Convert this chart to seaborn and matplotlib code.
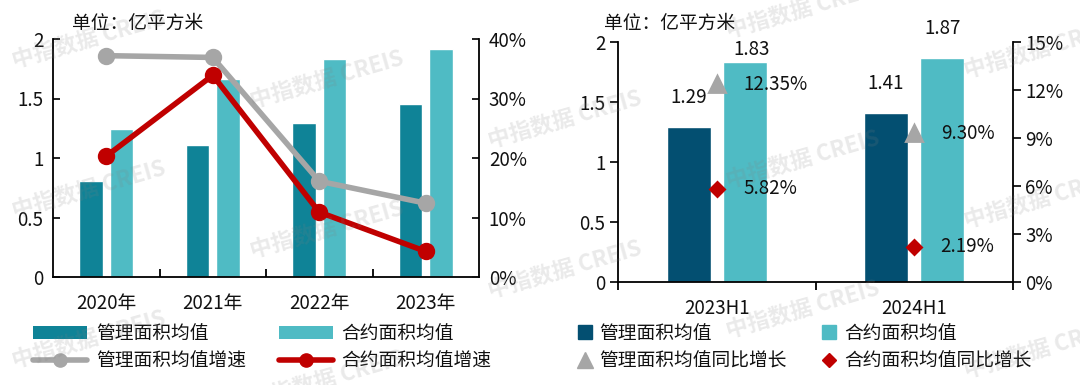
import matplotlib
matplotlib.use("Agg")
import matplotlib.pyplot as plt
from matplotlib.lines import Line2D
from matplotlib.patches import Patch
from matplotlib.ticker import FuncFormatter
import pandas as pd
import seaborn as sns

# ---- data ----
years = ["2020年", "2021年", "2022年", "2023年"]
mgmt_area = [0.81, 1.11, 1.29, 1.45]
contract_area = [1.24, 1.66, 1.83, 1.92]
mgmt_growth = [37.2, 36.9, 16.1, 12.4]        # %
contract_growth = [20.3, 33.9, 10.9, 4.3]     # %

halves = ["2023H1", "2024H1"]
mgmt_area_h1 = [1.29, 1.41]
contract_area_h1 = [1.83, 1.87]
mgmt_yoy_h1 = [12.35, 9.30]                   # %
contract_yoy_h1 = [5.82, 2.19]                # %

bar_names = ["管理面积均值", "合约面积均值"]
growth_names = ["管理面积均值增速", "合约面积均值增速"]
yoy_names = ["管理面积均值同比增长", "合约面积均值同比增长"]
unit_text = "单位：亿平方米"
watermark = "中指数据 CREIS"

# ---- style ----
TEAL_DARK = "#0F8397"
TEAL_LIGHT = "#4FBBC4"
NAVY = "#034F71"
GRAY = "#A6A6A6"
RED = "#C00000"
INK = "#111111"
FS = 13.5

sns.set_theme(style="white")
plt.rcParams["font.family"] = ["Noto Sans CJK SC", "DejaVu Sans"]
plt.rcParams["axes.unicode_minus"] = False

W, H = 1080, 385
fig = plt.figure(figsize=(W / 100, H / 100), dpi=100)


def px_axes(x0, x1, ytop, ybot):
    return fig.add_axes([x0 / W, 1 - ybot / H, (x1 - x0) / W, (ybot - ytop) / H])


def long_df(cats, a, b):
    return pd.DataFrame({
        "period": cats * 2,
        "series": [bar_names[0]] * len(cats) + [bar_names[1]] * len(cats),
        "value": a + b,
    })


def style_spines(ax, ax2):
    ax.spines["top"].set_visible(False)
    ax.spines["right"].set_visible(False)
    for s in ["top", "left", "bottom"]:
        ax2.spines[s].set_visible(False)
    for s in ["left", "bottom"]:
        ax.spines[s].set_color("black")
        ax.spines[s].set_linewidth(1.3)
    ax2.spines["right"].set_color("black")
    ax2.spines["right"].set_linewidth(1.3)


# ================= left chart =================
ax1 = px_axes(53, 479, 39, 277)
sns.barplot(data=long_df(years, mgmt_area, contract_area), x="period", y="value",
            hue="series", order=years, hue_order=bar_names,
            palette=[TEAL_DARK, TEAL_LIGHT], width=0.58, gap=0.24,
            saturation=1, legend=False, ax=ax1)
ax1b = ax1.twinx()
sns.pointplot(x=years, y=mgmt_growth, order=years, color=GRAY, marker="o",
              markersize=9.5, linewidth=4, errorbar=None, ax=ax1b)
sns.pointplot(x=years, y=contract_growth, order=years, color=RED, marker="o",
              markersize=9.5, linewidth=4, errorbar=None, ax=ax1b)

ax1.set_xlim(-0.5, len(years) - 0.5)
ax1.set_ylim(0, 2)
ax1b.set_ylim(0, 40)
ax1.set_yticks([0, 0.5, 1, 1.5, 2])
ax1b.set_yticks([0, 10, 20, 30, 40])
ax1.yaxis.set_major_formatter(FuncFormatter(lambda v, p: f"{v:g}"))
ax1b.yaxis.set_major_formatter(FuncFormatter(lambda v, p: f"{v:.0f}%"))
ax1.set_xticks(range(len(years)))
ax1.set_xticklabels(years)
ax1.set_xticks([i + 0.5 for i in range(len(years) - 1)], minor=True)
ax1.tick_params(axis="x", which="major", length=0, pad=11.5, labelsize=FS, colors=INK)
ax1.tick_params(axis="x", which="minor", direction="in", length=6, width=1.3,
                color="black", bottom=True)
ax1.tick_params(axis="y", direction="in", length=5, width=1.3, pad=7,
                labelsize=FS, colors=INK, left=True)
ax1b.tick_params(axis="y", direction="in", length=5, width=1.3, pad=7,
                 labelsize=FS, colors=INK, right=True)
for a in (ax1, ax1b):
    a.set_xlabel("")
    a.set_ylabel("")
    a.grid(False)
style_spines(ax1, ax1b)

left_handles = [
    Patch(facecolor=TEAL_DARK, edgecolor="none"),
    Line2D([0], [0], color=GRAY, lw=4, marker="o", markersize=9.5),
    Patch(facecolor=TEAL_LIGHT, edgecolor="none"),
    Line2D([0], [0], color=RED, lw=4, marker="o", markersize=9.5),
]
left_labels = [bar_names[0], growth_names[0], bar_names[1], growth_names[1]]
ax1b.legend(left_handles, left_labels, ncol=2, loc="upper left",
            bbox_to_anchor=(33 / W, 1 - 323 / H), bbox_transform=fig.transFigure,
            frameon=False, fontsize=FS, handlelength=2.9, handletextpad=0.45,
            columnspacing=1.75, labelspacing=0.35, borderpad=0, borderaxespad=0,
            labelcolor=INK)

fig.text(72 / W, 1 - 23 / H, unit_text, va="center", ha="left", fontsize=FS, color=INK)

# ================= right chart =================
ax2 = px_axes(618, 1013, 42, 282)
sns.barplot(data=long_df(halves, mgmt_area_h1, contract_area_h1), x="period", y="value",
            hue="series", order=halves, hue_order=bar_names,
            palette=[NAVY, TEAL_LIGHT], width=0.57, gap=0.22,
            saturation=1, legend=False, ax=ax2)
ax2b = ax2.twinx()
sns.pointplot(x=halves, y=mgmt_yoy_h1, order=halves, color=GRAY, marker="^",
              markersize=11, linestyle="none", errorbar=None, ax=ax2b)
sns.pointplot(x=halves, y=contract_yoy_h1, order=halves, color=RED, marker="D",
              markersize=7, linestyle="none", errorbar=None, ax=ax2b)

ax2.set_xlim(-0.5, len(halves) - 0.5)
ax2.set_ylim(0, 2)
ax2b.set_ylim(0, 15)
ax2.set_yticks([0, 0.5, 1, 1.5, 2])
ax2b.set_yticks([0, 3, 6, 9, 12, 15])
ax2.yaxis.set_major_formatter(FuncFormatter(lambda v, p: f"{v:g}"))
ax2b.yaxis.set_major_formatter(FuncFormatter(lambda v, p: f"{v:.0f}%"))
ax2.set_xticks(range(len(halves)))
ax2.set_xticklabels(halves)
ax2.set_xticks([i - 0.5 for i in range(len(halves) + 1)], minor=True)
ax2.tick_params(axis="x", which="major", length=0, pad=11.5, labelsize=FS, colors=INK)
ax2.tick_params(axis="x", which="minor", direction="out", length=6, width=1.3,
                color="black", bottom=True)
ax2.tick_params(axis="y", direction="out", length=6, width=1.3, pad=3,
                labelsize=FS, colors=INK, left=True)
ax2b.tick_params(axis="y", direction="out", length=6, width=1.3, pad=3,
                 labelsize=FS, colors=INK, right=True)
for a in (ax2, ax2b):
    a.set_xlabel("")
    a.set_ylabel("")
    a.grid(False)
style_spines(ax2, ax2b)

# value labels on the bars (offsets in points; the 1.83 label sits lower in the source)
label_offsets = [(0, 13.5), (0, 13.5), (5, 1.5), (0, 13.5)]
for patch, (dx, dy) in zip(ax2.patches, label_offsets):
    h = patch.get_height()
    ax2.annotate(f"{h:.2f}", (patch.get_x() + patch.get_width() / 2, h),
                 xytext=(dx, dy), textcoords="offset points", ha="center",
                 va="bottom", fontsize=FS, color=INK)

for series in (mgmt_yoy_h1, contract_yoy_h1):
    for i, v in enumerate(series):
        ax2b.annotate(f"{v:.2f}%", (i, v), xytext=(19, 0), textcoords="offset points",
                      ha="left", va="center", fontsize=FS, color=INK)

right_handles = [
    Line2D([0], [0], ls="none", marker="s", markersize=9.5, color=NAVY),
    Line2D([0], [0], ls="none", marker="^", markersize=11, color=GRAY),
    Line2D([0], [0], ls="none", marker="s", markersize=9.5, color=TEAL_LIGHT),
    Line2D([0], [0], ls="none", marker="D", markersize=7, color=RED),
]
right_labels = [bar_names[0], yoy_names[0], bar_names[1], yoy_names[1]]
ax2b.legend(right_handles, right_labels, ncol=2, loc="upper left",
            bbox_to_anchor=(577 / W, 1 - 323 / H), bbox_transform=fig.transFigure,
            frameon=False, fontsize=FS, handlelength=0.8, handletextpad=0.4,
            columnspacing=1.85, labelspacing=0.35, borderpad=0, borderaxespad=0,
            labelcolor=INK)

fig.text(604 / W, 1 - 23 / H, unit_text, va="center", ha="left", fontsize=FS, color=INK)

# ---- tiled watermark (clipped by the canvas edge like the source) ----
for i in range(5):
    for k in range(-1, 3):
        wx = 14 + 238 * i
        wy = 68 + 40 * i + 150 * k
        if wy < -10 or wy > 420:
            continue
        fig.text(wx / W, 1 - wy / H, watermark, rotation=16, rotation_mode="anchor",
                 ha="left", va="baseline", fontsize=16, fontweight="bold",
                 color="#808080", alpha=0.17, zorder=10)

fig.savefig("out.png", dpi=100)
